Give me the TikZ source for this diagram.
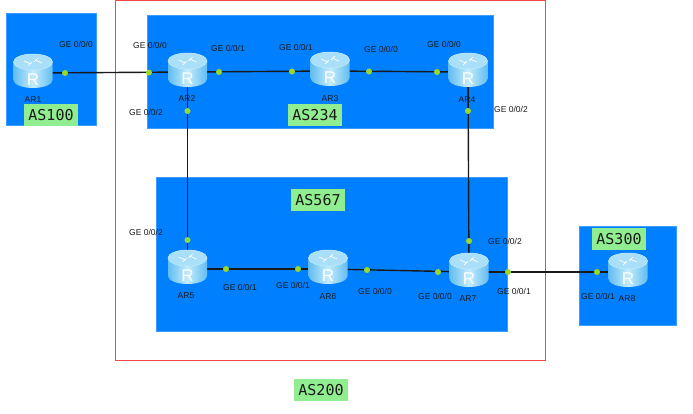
\documentclass[tikz,border=0pt]{standalone}
\usepackage{fontspec}
\setmainfont{Liberation Sans}
\newfontfamily\asfont{DejaVu Sans Mono}
\usetikzlibrary{shadings}
\definecolor{netBlue}{HTML}{0080FF}
\definecolor{netEdge}{HTML}{3C9CFF}
\definecolor{netRed}{HTML}{F04848}
\definecolor{netGreen}{HTML}{90EE90}
\definecolor{portGreen}{HTML}{9AD82A}
\definecolor{routerSide}{HTML}{62BDF2}
\definecolor{routerMid}{HTML}{C4ECFB}
\definecolor{routerTop}{HTML}{A9DFF8}
\tikzset{
  asregion/.style={fill=netBlue, draw=netEdge, line width=0.6pt},
  aslabel/.style={fill=netGreen, font=\asfont\fontsize{15}{15}\selectfont, text=black!90, inner sep=0pt, minimum width=54pt, minimum height=22pt},
  routerspot/.style={inner sep=0pt, minimum size=30pt},
  routername/.style={font=\fontsize{8.5}{10}\selectfont, text=black!90},
  portlabel/.style={font=\fontsize{8.5}{10}\selectfont, text=black!90, inner sep=0pt},
  portdot/.style={circle, fill=portGreen, inner sep=0pt, minimum size=6pt},
  link/.style={draw=black!90, line width=1.4pt},
  routericon/.pic={
    \shade[left color=routerSide, right color=routerSide, middle color=routerMid]
      (-19.5,-11) -- (-19.5,7) arc[start angle=180, end angle=0, x radius=19.5, y radius=8]
      -- (19.5,-11) arc[start angle=0, end angle=-180, x radius=19.5, y radius=8] -- cycle;
    \fill[routerTop, draw=routerMid, line width=0.5pt] (0,-11) ellipse[x radius=19.5, y radius=8];
    \draw[white, line width=0.7pt] (-9,-12) -- (-2,-9) (9,-10) -- (2,-13) (-5,-7) -- (-1,-11) (5,-15) -- (1,-11);
    \node[font=\fontsize{17}{17}\selectfont, text=white, inner sep=0pt] (-letter) at (0,7) {R};
  }
}

\begin{document}
\begin{tikzpicture}[x=1pt, y=-1pt]
  \useasboundingbox (0,0) rectangle (693,413);

  % AS zones
  \draw[netRed, line width=0.8pt] (115.5,0.5) rectangle (545,360.5);
  \draw[asregion] (6,13) rectangle (96,125);
  \draw[asregion] (147,15) rectangle (493,128);
  \draw[asregion] (156,177) rectangle (507,331);
  \draw[asregion] (579,226) rectangle (676,325);

  % Routers
  \node[routerspot] (AR1) at (33,73) {};
  \node[routerspot] (AR2) at (187.5,72) {};
  \node[routerspot] (AR3) at (330,71) {};
  \node[routerspot] (AR4) at (468,72) {};
  \node[routerspot] (AR5) at (187.5,269) {};
  \node[routerspot] (AR6) at (328,269) {};
  \node[routerspot] (AR7) at (469,272) {};
  \node[routerspot] (AR8) at (628,272) {};

  % Links
  \draw[link] (AR1.center) -- (AR2.center);
  \draw[link] (AR2.center) -- (AR3.center);
  \draw[link] (AR3.center) -- (AR4.center);
  \draw[link] (AR2.center) -- (AR5.center);
  \draw[link] (AR4.center) -- (AR7.center);
  \draw[link] (AR5.center) -- (AR6.center);
  \draw[link] (AR6.center) -- (AR7.center);
  \draw[link] (AR7.center) -- (AR8.center);

  % Router icons
  \pic (icon1) at (AR1) {routericon};
  \pic (icon2) at (AR2) {routericon};
  \pic (icon3) at (AR3) {routericon};
  \pic (icon4) at (AR4) {routericon};
  \pic (icon5) at (AR5) {routericon};
  \pic (icon6) at (AR6) {routericon};
  \pic (icon7) at (AR7) {routericon};
  \pic (icon8) at (AR8) {routericon};

  % Ports
  \node[portdot] (dot1) at (65,73) {};
  \node[portdot] (dot2) at (149,72.5) {};
  \node[portdot] (dot3) at (219,72) {};
  \node[portdot] (dot4) at (292,71.5) {};
  \node[portdot] (dot5) at (369,71.5) {};
  \node[portdot] (dot6) at (437,72) {};
  \node[portdot] (dot7) at (187.5,111) {};
  \node[portdot] (dot8) at (468,111) {};
  \node[portdot] (dot9) at (187.5,240) {};
  \node[portdot] (dot10) at (469,241) {};
  \node[portdot] (dot11) at (226,269) {};
  \node[portdot] (dot12) at (298,269) {};
  \node[portdot] (dot13) at (367,270) {};
  \node[portdot] (dot14) at (438,272) {};
  \node[portdot] (dot15) at (508,272) {};
  \node[portdot] (dot16) at (597,272) {};

  % Port labels
  \node[portlabel] (ge1) at (76,44) {GE 0/0/0};
  \node[portlabel] (ge2) at (150,45) {GE 0/0/0};
  \node[portlabel] (ge3) at (228,48) {GE 0/0/1};
  \node[portlabel] (ge4) at (296,47) {GE 0/0/1};
  \node[portlabel] (ge5) at (381,49) {GE 0/0/0};
  \node[portlabel] (ge6) at (444,44) {GE 0/0/0};
  \node[portlabel] (ge7) at (146,112) {GE 0/0/2};
  \node[portlabel] (ge8) at (511,109) {GE 0/0/2};
  \node[portlabel] (ge9) at (146,232) {GE 0/0/2};
  \node[portlabel] (ge10) at (505,241) {GE 0/0/2};
  \node[portlabel] (ge11) at (240,287) {GE 0/0/1};
  \node[portlabel] (ge12) at (293,285) {GE 0/0/1};
  \node[portlabel] (ge13) at (375,291) {GE 0/0/0};
  \node[portlabel] (ge14) at (435,296) {GE 0/0/0};
  \node[portlabel] (ge15) at (514,291) {GE 0/0/1};
  \node[portlabel] (ge16) at (598,296) {GE 0/0/1};

  % Router names
  \node[routername] (name1) at (33,100) {AR1};
  \node[routername] (name2) at (187,99) {AR2};
  \node[routername] (name3) at (330,99) {AR3};
  \node[routername] (name4) at (467,100) {AR4};
  \node[routername] (name5) at (186,296) {AR5};
  \node[routername] (name6) at (328,297) {AR6};
  \node[routername] (name7) at (468,299) {AR7};
  \node[routername] (name8) at (627,299) {AR8};

  % AS labels
  \node[aslabel] (as100) at (51,115) {AS100};
  \node[aslabel] (as234) at (315,115) {AS234};
  \node[aslabel] (as567) at (318,200) {AS567};
  \node[aslabel] (as300) at (619,239) {AS300};
  \node[aslabel] (as200) at (321,390) {AS200};
\end{tikzpicture}
\end{document}
